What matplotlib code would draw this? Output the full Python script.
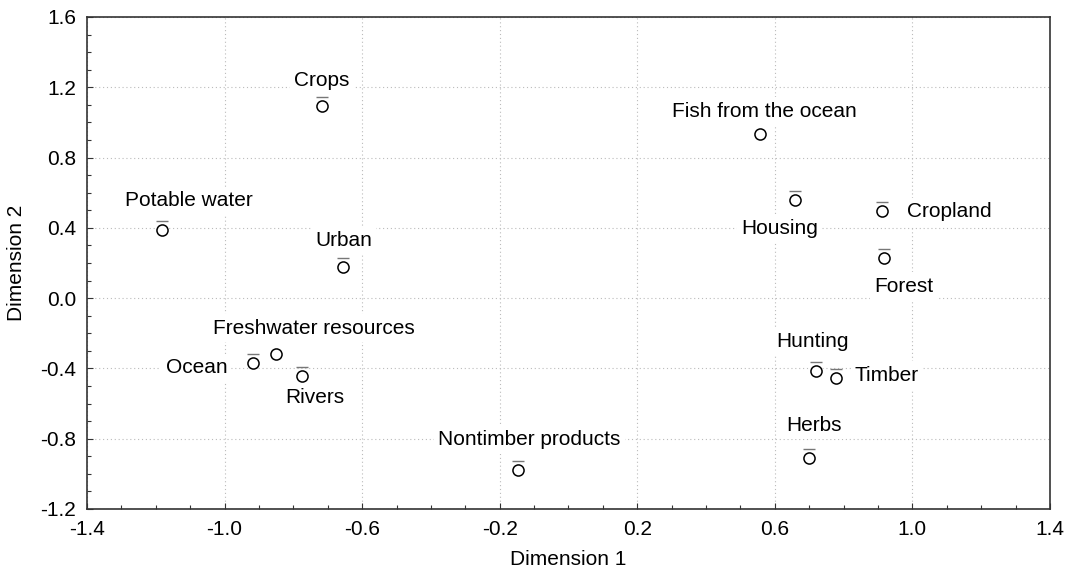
import matplotlib
matplotlib.use("Agg")
import matplotlib.pyplot as plt
import matplotlib.transforms as mtransforms
from matplotlib.ticker import MultipleLocator, FixedLocator

plt.rcParams['font.family'] = ['Liberation Sans', 'DejaVu Sans']

labels = ["Crops", "Potable water", "Urban", "Freshwater resources", "Ocean", "Rivers",
          "Nontimber products", "Fish from the ocean", "Housing", "Cropland", "Forest",
          "Hunting", "Timber", "Herbs"]
dim1 = [-0.717, -1.182, -0.656, -0.851, -0.917, -0.775, -0.148, 0.556, 0.658, 0.911,
        0.917, 0.719, 0.777, 0.699]
dim2 = [1.093, 0.388, 0.177, -0.318, -0.369, -0.443, -0.978, 0.934, 0.558, 0.496,
        0.228, -0.415, -0.455, -0.910]
has_bar = [True, True, True, False, True, True, True, False, True, True, True, True, True, True]

xticks = [-1.4, -1.0, -0.6, -0.2, 0.2, 0.6, 1.0, 1.4]
yticks = [-1.2, -0.8, -0.4, 0.0, 0.4, 0.8, 1.2, 1.6]

# label offsets in pixels (dx, dy up positive) and alignment
label_offsets = {
    "Crops": (0, 26, 'center'),
    "Potable water": (27, 29, 'center'),
    "Urban": (1, 27, 'center'),
    "Freshwater resources": (38, 26, 'center'),
    "Ocean": (-26, -5, 'right'),
    "Rivers": (13, -22, 'center'),
    "Nontimber products": (12, 30, 'center'),
    "Fish from the ocean": (5, 23, 'center'),
    "Housing": (-15, -28, 'center'),
    "Cropland": (25, -1, 'left'),
    "Forest": (20, -28, 'center'),
    "Hunting": (-3, 30, 'center'),
    "Timber": (19, 3, 'left'),
    "Herbs": (5, 33, 'center'),
}

FS = 15

fig = plt.figure(figsize=(10.69, 5.78), dpi=100)
ax = fig.add_axes([0.0814, 0.1194, 0.9822 - 0.0814, 0.9706 - 0.1194])
ax.set_xlim(-1.4, 1.4)
ax.set_ylim(-1.2, 1.6)
ax.xaxis.set_major_locator(FixedLocator(xticks))
ax.yaxis.set_major_locator(FixedLocator(yticks))
ax.xaxis.set_minor_locator(MultipleLocator(0.1))
ax.yaxis.set_minor_locator(MultipleLocator(0.1))
ax.set_xticklabels([f"{v:.1f}" for v in xticks])
ax.set_yticklabels([f"{v:.1f}" for v in yticks])
ax.tick_params(which='both', direction='in', colors='#333333', labelcolor='black', labelsize=FS)
ax.tick_params(which='major', length=4, width=0.8)
ax.tick_params(which='minor', length=3, width=0.8)
ax.tick_params(axis='x', pad=8)
ax.tick_params(axis='y', pad=8)
ax.grid(True, which='major', linestyle=(0, (1, 2.5)), color='#bbbbbb', linewidth=0.8)
ax.set_axisbelow(True)
for s in ax.spines.values():
    s.set_color('#333333')
    s.set_linewidth(1.2)

ax.plot(dim1, dim2, linestyle='none', marker='o', markersize=8, markerfacecolor='white',
        markeredgecolor='black', markeredgewidth=1.1, zorder=5)

bar_tr = mtransforms.offset_copy(ax.transData, fig=fig, x=0, y=9, units='dots')
bx = [x for x, b in zip(dim1, has_bar) if b]
by = [y for y, b in zip(dim2, has_bar) if b]
ax.plot(bx, by, linestyle='none', marker='_', markersize=8, markeredgecolor='#777777',
        markeredgewidth=1.0, transform=bar_tr, zorder=5)

for lab, x, y in zip(labels, dim1, dim2):
    dx, dy, ha = label_offsets[lab]
    ax.annotate(lab, (x, y), xytext=(dx, dy), textcoords='offset pixels', ha=ha, va='center',
                fontsize=FS, bbox=dict(boxstyle='square,pad=0.2', fc='white', ec='none'), zorder=4)

ax.set_xlabel("Dimension 1", fontsize=FS, labelpad=8)
ax.set_ylabel("Dimension 2", fontsize=FS, labelpad=10)

fig.savefig("out.png", dpi=100)
